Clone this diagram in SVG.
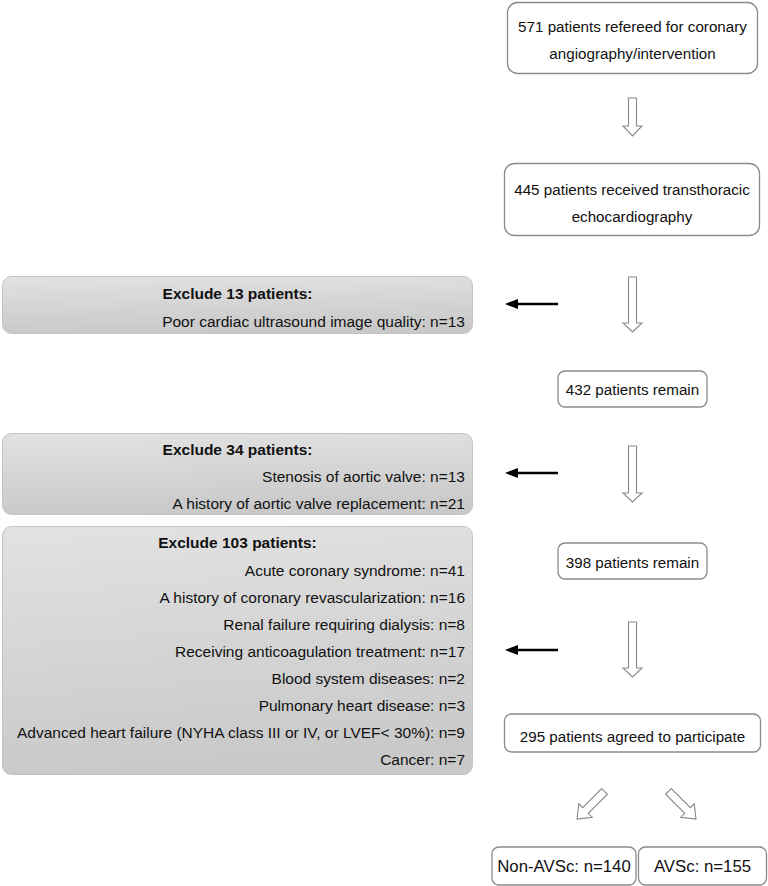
<svg xmlns="http://www.w3.org/2000/svg" width="768" height="886" viewBox="0 0 768 886">
<defs>
<linearGradient id="grayfill" x1="0" y1="0" x2="0.15" y2="1">
<stop offset="0" stop-color="#e2e2e2"/>
<stop offset="1" stop-color="#c9c9c9"/>
</linearGradient>
<marker id="blackhead" markerWidth="14" markerHeight="10" refX="2" refY="5" orient="auto" markerUnits="userSpaceOnUse">
<path d="M0,0 L13,5 L0,10 Z" fill="#000"/>
</marker>
</defs>
<style>
.rbox{fill:#fff;stroke:#8a8a8a;stroke-width:1.3}
.gbox{fill:url(#grayfill);stroke:#c4c4c4;stroke-width:1}
.t{font-family:"Liberation Sans",Arial,sans-serif;font-size:15.2px;fill:#111}
.tl{font-family:"Liberation Sans",Arial,sans-serif;font-size:15.5px;fill:#111;text-anchor:end}
.tb{font-family:"Liberation Sans",Arial,sans-serif;font-size:15.5px;font-weight:bold;fill:#111;text-anchor:middle}
.tc{text-anchor:middle}
.big{font-size:16.8px}
.hollow{fill:#fff;stroke:#8a8a8a;stroke-width:1.1}
.blk{stroke:#000;stroke-width:2.6;fill:none}
</style>

<g id="connectors">
<path class="hollow" d="M628.5,98 L636.5,98 L636.5,126 L642,126 L632.5,136 L623,126 L628.5,126 Z"/>
<path class="hollow" d="M628.5,277 L636.5,277 L636.5,323 L642,323 L632.5,332 L623,323 L628.5,323 Z"/>
<path class="hollow" d="M628.5,446 L636.5,446 L636.5,493 L642,493 L632.5,502 L623,493 L628.5,493 Z"/>
<path class="hollow" d="M628.5,622 L636.5,622 L636.5,668 L642,668 L632.5,677 L623,668 L628.5,668 Z"/>
<path class="hollow" transform="translate(577,819) rotate(45)" d="M-4,-39 L4,-39 L4,-12 L9.5,-12 L0,0 L-9.5,-12 L-4,-12 Z"/>
<path class="hollow" transform="translate(696,819) rotate(-45)" d="M-4,-39 L4,-39 L4,-12 L9.5,-12 L0,0 L-9.5,-12 L-4,-12 Z"/>
<line class="blk" x1="558" y1="304" x2="516" y2="304" marker-end="url(#blackhead)"/>
<line class="blk" x1="558" y1="473" x2="516" y2="473" marker-end="url(#blackhead)"/>
<line class="blk" x1="558" y1="650" x2="516" y2="650" marker-end="url(#blackhead)"/>
</g>

<g id="n571">
<rect class="rbox" x="507.5" y="2.5" width="250" height="71" rx="10"/>
<text class="t tc" x="632.5" y="32">571 patients refereed for coronary</text>
<text class="t tc" x="632.5" y="59">angiography/intervention</text>
</g>

<g id="n445">
<rect class="rbox" x="504.5" y="163.5" width="255" height="72" rx="10"/>
<text class="t tc" x="632" y="195">445 patients received transthoracic</text>
<text class="t tc" x="632" y="222">echocardiography</text>
</g>

<g id="ex13">
<rect class="gbox" x="2.5" y="276.5" width="470" height="57" rx="9"/>
<text class="tb" x="237.5" y="299">Exclude 13 patients:</text>
<text class="tl" x="465" y="327">Poor cardiac ultrasound image quality: n=13</text>
</g>

<g id="n432">
<rect class="rbox" x="558" y="371" width="149" height="36" rx="7"/>
<text class="t tc" x="632.5" y="395">432 patients remain</text>
</g>

<g id="ex34">
<rect class="gbox" x="2.5" y="433.5" width="470" height="81" rx="9"/>
<text class="tb" x="237.5" y="455">Exclude 34 patients:</text>
<text class="tl" x="465" y="482">Stenosis of aortic valve: n=13</text>
<text class="tl" x="465" y="509">A history of aortic valve replacement: n=21</text>
</g>

<g id="ex103">
<rect class="gbox" x="2.5" y="526.5" width="470" height="248" rx="9"/>
<text class="tb" x="237.5" y="548">Exclude 103 patients:</text>
<text class="tl" x="465" y="576">Acute coronary syndrome: n=41</text>
<text class="tl" x="465" y="603">A history of coronary revascularization: n=16</text>
<text class="tl" x="465" y="630">Renal failure requiring dialysis: n=8</text>
<text class="tl" x="465" y="657">Receiving anticoagulation treatment: n=17</text>
<text class="tl" x="465" y="684">Blood system diseases: n=2</text>
<text class="tl" x="465" y="711">Pulmonary heart disease: n=3</text>
<text class="tl" x="465" y="738">Advanced heart failure (NYHA class III or IV, or LVEF&lt; 30%): n=9</text>
<text class="tl" x="465" y="765">Cancer: n=7</text>
</g>

<g id="n398">
<rect class="rbox" x="558" y="543" width="149" height="36" rx="7"/>
<text class="t tc" x="632.5" y="568">398 patients remain</text>
</g>

<g id="n295">
<rect class="rbox" x="504.5" y="714" width="256" height="38" rx="7"/>
<text class="t tc" x="632.5" y="742">295 patients agreed to participate</text>
</g>

<g id="nonavsc">
<rect class="rbox" x="492" y="847" width="144" height="38" rx="7"/>
<text class="t tc big" x="564" y="872">Non-AVSc: n=140</text>
</g>

<g id="avsc">
<rect class="rbox" x="638.5" y="847" width="128" height="38" rx="7"/>
<text class="t tc big" x="702.5" y="872">AVSc: n=155</text>
</g>
</svg>
